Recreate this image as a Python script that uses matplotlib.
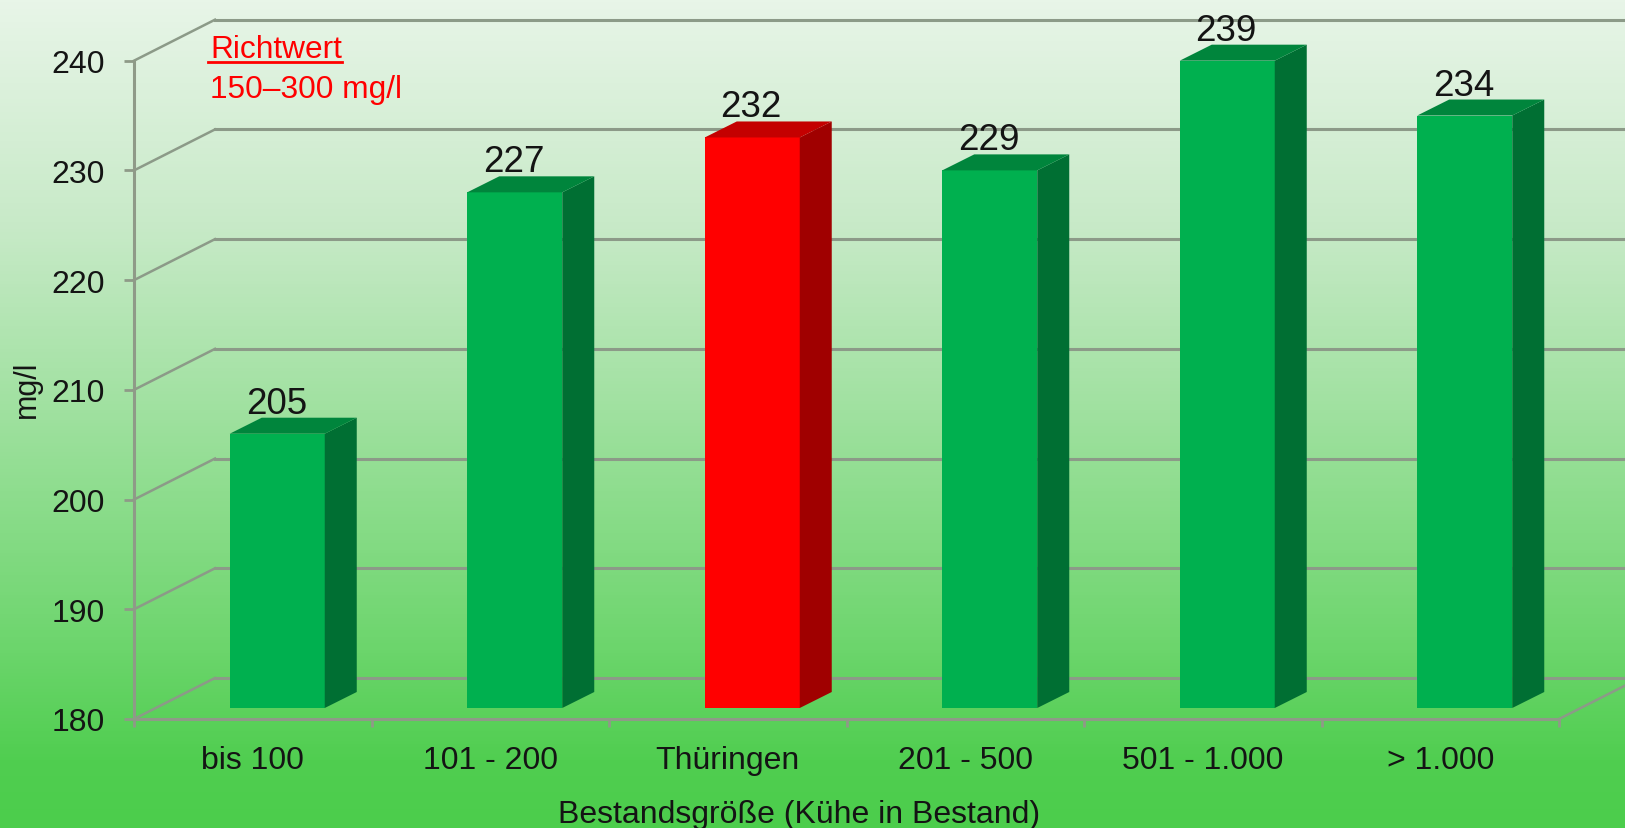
import matplotlib

matplotlib.use("Agg")
import matplotlib.pyplot as plt
import numpy as np
from matplotlib.colors import LinearSegmentedColormap
from matplotlib.lines import Line2D
from matplotlib.transforms import Affine2D

plt.rcParams["font.family"] = ["Liberation Sans", "DejaVu Sans"]

# data
categories = ["bis 100", "101 - 200", "Thüringen", "201 - 500", "501 - 1.000", "> 1.000"]
values = [205, 227, 232, 229, 239, 234]
y_ticks = [180, 190, 200, 210, 220, 230, 240]

# style
W, H = 1625, 829
GRID = "#8c9a88"
AXIS = "#8f9a88"
TEXT = "#141414"
GREEN = ("#00b04f", "#006f33", "#00853c")  # front, side, top
RED = ("#ff0000", "#a00000", "#c40000")
WALL = (81, 41)  # back wall offset in pixels
BAR = (24.5, 11)  # bars stand part way into the floor
DEPTH = (32, 16)  # bar depth in pixels

fig = plt.figure(figsize=(W / 100, H / 100), dpi=100)

# background gradient
bg = fig.add_axes([0, 0, 1, 1], zorder=0)
bg.axis("off")
cmap = LinearSegmentedColormap.from_list(
    "bg",
    [(0, "#e8f5e8"), (0.27, "#c8eac8"), (0.77, "#6fd66f"), (0.92, "#50ce50"), (1, "#4ccd4c")],
)
bg.imshow(np.linspace(0, 1, 256)[:, None], aspect="auto", cmap=cmap, vmin=0, vmax=1)

ax = fig.add_axes([134 / W, 1 - 720 / H, 1425 / W, 658.3 / H], zorder=1)
ax.patch.set_alpha(0)
ax.set_xlim(0, 6)
ax.set_ylim(180, 240)


def shifted(dx, dy):
    return ax.transData + Affine2D().translate(dx, dy)


# back wall lines and floor edges
wall = shifted(*WALL)
for v in y_ticks:
    ax.plot([0, 6], [v, v], color=GRID, lw=2.2, transform=wall, clip_on=False, zorder=1)
    # diagonal from the front axis up to the wall
    x0, y0 = ax.transData.transform((0, v))
    ax.plot([x0, x0 + WALL[0]], [y0, y0 + WALL[1]], color=GRID, lw=1.8,
            transform=None, clip_on=False, zorder=1)
x1, y1 = ax.transData.transform((6, 180))
ax.plot([x1, x1 + WALL[0]], [y1, y1 + WALL[1]], color=GRID, lw=1.8,
        transform=None, clip_on=False, zorder=1)
ax.set_xlim(0, 6)
ax.set_ylim(180, 240)

# bars
front = shifted(*BAR)
for i, (v, label) in enumerate(zip(values, categories)):
    cols = RED if label == "Thüringen" else GREEN
    x = i + 0.5
    ax.bar(x, v - 180, 0.4, bottom=180, color=cols[0], transform=front, clip_on=False, zorder=3)

    # side and top faces, built from the display position of the front face
    xl, yb = front.transform((x - 0.2, 180))
    xr, yt = front.transform((x + 0.2, v))
    dx, dy = DEPTH
    ax.fill([xr, xr + dx, xr + dx, xr], [yb, yb + dy, yt + dy, yt], color=cols[1], lw=0,
            transform=None, clip_on=False, zorder=3)
    ax.fill([xl, xl + dx, xr + dx, xr], [yt, yt + dy, yt + dy, yt], color=cols[2], lw=0,
            transform=None, clip_on=False, zorder=3)

    ax.annotate(str(v), xy=(x, v), xytext=(BAR[0] - 1, BAR[1] + 21), textcoords="offset pixels",
                ha="center", va="baseline", fontsize=26.5, color=TEXT, zorder=5,
                annotation_clip=False)

ax.set_xlim(0, 6)
ax.set_ylim(180, 240)

# axes
for side in ["top", "right"]:
    ax.spines[side].set_visible(False)
for side in ["left", "bottom"]:
    ax.spines[side].set_color(AXIS)
    ax.spines[side].set_linewidth(2.2)
ax.set_yticks(y_ticks)
ax.tick_params(axis="y", length=7, width=2, color=AXIS, pad=14, labelsize=23, labelcolor=TEXT)
ax.set_xticks(range(7))
ax.set_xticklabels([])
ax.tick_params(axis="x", which="major", length=6, width=2, color=AXIS)
ax.set_xticks(np.arange(6) + 0.5, categories, minor=True)
ax.tick_params(axis="x", which="minor", length=0, pad=18.5, labelsize=23, labelcolor=TEXT)

ax.set_ylabel("mg/l", fontsize=22, color=TEXT)
ax.yaxis.set_label_coords(-0.0645, 0.502)
ax.set_xlabel("Bestandsgröße (Kühe in Bestand)", fontsize=23, color=TEXT, va="center")
ax.xaxis.set_label_coords(0.467, -0.1437)

# note
fig.text(210 / W, 1 - 58 / H, "Richtwert", color="#ff0000", fontsize=22.8, va="baseline")
fig.text(210 / W, 1 - 98 / H, "150–300 mg/l", color="#ff0000", fontsize=22.8, va="baseline")
fig.add_artist(Line2D([208 / W, 342 / W], [1 - 63 / H, 1 - 63 / H], color="#ff0000", lw=2))

fig.savefig("out.png", dpi=100)
